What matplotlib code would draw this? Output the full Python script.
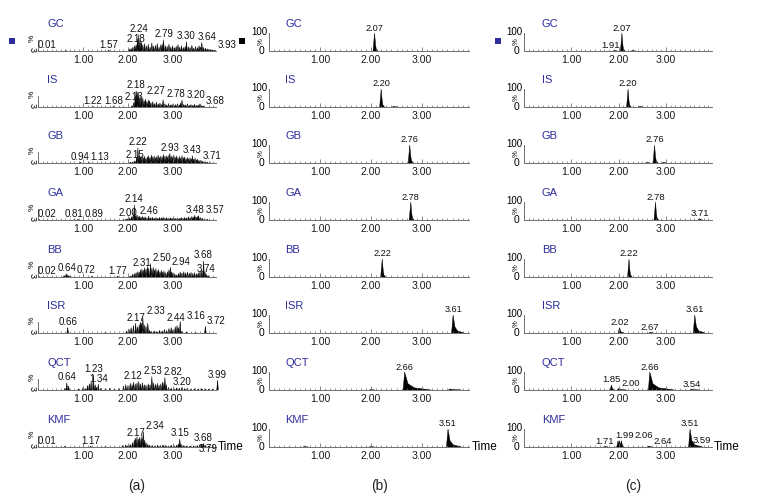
import numpy as np
import matplotlib
matplotlib.use('Agg')
import matplotlib.pyplot as plt
from matplotlib.ticker import FixedLocator, MultipleLocator, FormatStrFormatter
from matplotlib.patches import Rectangle

plt.rcParams['font.family'] = ['Liberation Sans', 'DejaVu Sans']

# compound traces, top to bottom
names = ['GC', 'IS', 'GB', 'GA', 'BB', 'ISR', 'QCT', 'KMF']

# (a) blank plasma: many small peaks, (time, % intensity)
peaks_a = [
    [(0.01, 3), (0.62, 3), (1.57, 4), (2.03, 10), (2.07, 15), (2.11, 22), (2.15, 30), (2.18, 35), (2.21, 70),
     (2.24, 92), (2.27, 60), (2.30, 48), (2.33, 35), (2.37, 42), (2.41, 28), (2.45, 38), (2.49, 22), (2.53, 45),
     (2.57, 28), (2.61, 32), (2.65, 42), (2.69, 22), (2.73, 35), (2.76, 40), (2.79, 62), (2.83, 30), (2.87, 26),
     (2.91, 38), (2.95, 22), (2.99, 30), (3.03, 18), (3.07, 26), (3.11, 36), (3.15, 22), (3.19, 30), (3.23, 20),
     (3.27, 26), (3.30, 52), (3.34, 24), (3.38, 20), (3.42, 32), (3.46, 16), (3.50, 26), (3.54, 20), (3.58, 30),
     (3.61, 22), (3.64, 48), (3.68, 20), (3.72, 16), (3.76, 12), (3.80, 10), (3.84, 8), (3.88, 6), (3.93, 4)],
    [(1.22, 3), (1.68, 3), (2.09, 8), (2.13, 25), (2.16, 60), (2.18, 90), (2.20, 85), (2.22, 80), (2.24, 70),
     (2.27, 60), (2.30, 45), (2.33, 50), (2.36, 35), (2.39, 45), (2.42, 30), (2.45, 40), (2.48, 35), (2.51, 25),
     (2.55, 30), (2.59, 20), (2.63, 28), (2.67, 18), (2.71, 22), (2.75, 15), (2.78, 40), (2.82, 18), (2.86, 12),
     (2.90, 20), (2.94, 12), (2.98, 15), (3.02, 10), (3.06, 14), (3.10, 18), (3.14, 12), (3.17, 22), (3.20, 38),
     (3.24, 15), (3.28, 12), (3.32, 18), (3.36, 10), (3.40, 14), (3.44, 10), (3.48, 16), (3.52, 8), (3.56, 12),
     (3.60, 18), (3.64, 8), (3.68, 5)],
    [(0.94, 2), (1.13, 2), (2.05, 4), (2.10, 6), (2.15, 12), (2.19, 30), (2.22, 85), (2.25, 45), (2.28, 35),
     (2.31, 40), (2.34, 30), (2.37, 38), (2.40, 28), (2.43, 35), (2.46, 42), (2.49, 32), (2.52, 45), (2.55, 35),
     (2.58, 40), (2.61, 30), (2.64, 38), (2.67, 45), (2.70, 32), (2.73, 40), (2.76, 35), (2.79, 48), (2.82, 38),
     (2.85, 42), (2.88, 35), (2.91, 45), (2.93, 55), (2.96, 40), (2.99, 35), (3.02, 45), (3.05, 32), (3.08, 40),
     (3.11, 30), (3.14, 38), (3.17, 28), (3.20, 42), (3.23, 30), (3.26, 35), (3.29, 25), (3.32, 32), (3.35, 25),
     (3.38, 30), (3.41, 22), (3.43, 40), (3.46, 22), (3.49, 28), (3.52, 18), (3.55, 22), (3.58, 14), (3.62, 16),
     (3.66, 10), (3.71, 8), (3.76, 5), (3.82, 3)],
    [(0.02, 2), (0.81, 3), (0.89, 2), (1.90, 3), (1.96, 5), (2.00, 8), (2.04, 12), (2.08, 18), (2.11, 22),
     (2.14, 85), (2.17, 25), (2.20, 30), (2.23, 18), (2.26, 22), (2.29, 15), (2.32, 20), (2.35, 14), (2.38, 18),
     (2.42, 12), (2.46, 22), (2.50, 12), (2.54, 16), (2.58, 10), (2.62, 14), (2.66, 10), (2.70, 15), (2.74, 12),
     (2.78, 16), (2.82, 10), (2.86, 14), (2.90, 9), (2.94, 13), (2.98, 10), (3.02, 12), (3.06, 8), (3.10, 12),
     (3.14, 9), (3.18, 14), (3.22, 10), (3.26, 15), (3.30, 12), (3.34, 18), (3.38, 14), (3.42, 20), (3.45, 16),
     (3.48, 26), (3.51, 18), (3.54, 20), (3.57, 24), (3.61, 14), (3.65, 10), (3.70, 6), (3.76, 4)],
    [(0.02, 3), (0.58, 8), (0.62, 12), (0.64, 18), (0.68, 8), (0.72, 6), (1.20, 2), (1.77, 5), (2.05, 6),
     (2.10, 15), (2.14, 20), (2.18, 25), (2.22, 30), (2.25, 28), (2.28, 40), (2.31, 45), (2.34, 38), (2.37, 52),
     (2.40, 45), (2.43, 60), (2.46, 50), (2.50, 75), (2.53, 48), (2.56, 55), (2.59, 40), (2.62, 48), (2.65, 35),
     (2.68, 42), (2.71, 30), (2.74, 38), (2.77, 28), (2.80, 35), (2.84, 25), (2.88, 30), (2.91, 40), (2.94, 55),
     (2.97, 30), (3.00, 25), (3.04, 18), (3.08, 12), (3.12, 20), (3.16, 28), (3.20, 22), (3.24, 30), (3.28, 24),
     (3.32, 28), (3.36, 22), (3.40, 26), (3.44, 20), (3.48, 25), (3.52, 18), (3.56, 24), (3.60, 30), (3.64, 40),
     (3.68, 90), (3.71, 30), (3.74, 15), (3.78, 8)],
    [(0.66, 30), (1.50, 2), (1.97, 12), (2.02, 22), (2.07, 30), (2.12, 42), (2.17, 55), (2.21, 35), (2.25, 48),
     (2.28, 62), (2.30, 55), (2.33, 90), (2.36, 45), (2.40, 38), (2.44, 55), (2.48, 15), (2.52, 10), (2.58, 12),
     (2.64, 8), (2.70, 15), (2.76, 12), (2.81, 20), (2.86, 14), (2.91, 25), (2.96, 30), (3.00, 18), (3.05, 35),
     (3.09, 42), (3.12, 30), (3.16, 65), (3.20, 10), (3.30, 6), (3.50, 4), (3.72, 38)],
    [(0.60, 10), (0.64, 40), (0.68, 22), (0.90, 6), (1.00, 12), (1.05, 8), (1.10, 25), (1.14, 35), (1.18, 45),
     (1.23, 85), (1.27, 30), (1.30, 15), (1.34, 32), (1.40, 10), (1.50, 8), (1.60, 10), (1.70, 6), (1.80, 8),
     (1.90, 22), (1.95, 30), (2.00, 25), (2.05, 38), (2.09, 30), (2.12, 45), (2.16, 35), (2.20, 40), (2.24, 48),
     (2.28, 35), (2.32, 42), (2.36, 30), (2.40, 28), (2.45, 35), (2.49, 30), (2.53, 75), (2.57, 40), (2.61, 32),
     (2.65, 38), (2.69, 28), (2.73, 35), (2.77, 45), (2.80, 40), (2.82, 70), (2.85, 30), (2.90, 15), (2.96, 10),
     (3.02, 8), (3.08, 12), (3.14, 10), (3.20, 15), (3.26, 8), (3.32, 10), (3.40, 6), (3.48, 8), (3.56, 6),
     (3.64, 8), (3.72, 5), (3.80, 6), (3.88, 5), (3.99, 55)],
    [(0.01, 3), (0.60, 4), (1.17, 4), (1.50, 2), (1.88, 8), (1.95, 12), (2.00, 8), (2.05, 15), (2.10, 25),
     (2.14, 40), (2.17, 50), (2.20, 58), (2.23, 45), (2.26, 55), (2.29, 48), (2.31, 60), (2.34, 85), (2.37, 40),
     (2.40, 25), (2.44, 15), (2.48, 10), (2.54, 8), (2.60, 6), (2.66, 10), (2.72, 8), (2.78, 12), (2.84, 8),
     (2.90, 6), (2.96, 10), (3.02, 8), (3.08, 10), (3.12, 18), (3.15, 45), (3.18, 15), (3.24, 8), (3.30, 6),
     (3.38, 5), (3.46, 6), (3.54, 8), (3.60, 14), (3.64, 18), (3.68, 20), (3.72, 10), (3.79, 5)],
]
labels_a = [
    ['0.01', '1.57', '2.18', '2.24', '2.79', '3.30', '3.64', '3.93'],
    ['1.22', '1.68', '2.13', '2.18', '2.27', '2.78', '3.20', '3.68'],
    ['0.94', '1.13', '2.15', '2.22', '2.93', '3.43', '3.71'],
    ['0.02', '0.81', '0.89', '2.00', '2.14', '2.46', '3.48', '3.57'],
    ['0.02', '0.64', '0.72', '1.77', '2.31', '2.50', '2.94', '3.68', '3.74'],
    ['0.66', '2.17', '2.33', '2.44', '3.16', '3.72'],
    ['0.64', '1.23', '1.34', '2.12', '2.53', '2.82', '3.20', '3.99'],
    ['0.01', '1.17', '2.17', '2.34', '3.15', '3.68', '3.79'],
]

# (b) standards, (time, % intensity, tail length)
peaks_b = [
    [(2.07, 100, 0.05)],
    [(2.20, 100, 0.05), (2.45, 2, 0.05)],
    [(2.76, 100, 0.06)],
    [(2.78, 100, 0.05)],
    [(2.22, 100, 0.05)],
    [(3.61, 100, 0.20)],
    [(2.00, 3, 0.05), (2.66, 100, 0.50), (3.55, 6, 0.20)],
    [(0.70, 2, 0.05), (2.00, 2, 0.05), (3.51, 100, 0.25)],
]
labels_b = [['2.07'], ['2.20'], ['2.76'], ['2.78'], ['2.22'], ['3.61'], ['2.66'], ['3.51']]

# (c) plasma sample
peaks_c = [
    [(1.91, 3, 0.05), (2.07, 100, 0.05), (2.30, 2, 0.05)],
    [(2.20, 100, 0.05), (2.45, 2, 0.05)],
    [(2.60, 3, 0.05), (2.76, 100, 0.06), (2.95, 2, 0.05)],
    [(2.78, 100, 0.05), (3.71, 8, 0.05)],
    [(2.22, 100, 0.05)],
    [(2.02, 30, 0.08), (2.67, 3, 0.05), (3.61, 100, 0.20)],
    [(1.85, 28, 0.04), (2.00, 8, 0.15), (2.66, 100, 0.50), (3.54, 4, 0.15)],
    [(1.71, 3, 0.05), (1.99, 35, 0.03), (2.02, 35, 0.03), (2.06, 35, 0.03), (2.64, 5, 0.05),
     (3.51, 100, 0.25), (3.59, 10, 0.08)],
]
labels_c = [
    ['1.91', '2.07'], ['2.20'], ['2.76'], ['2.78', '3.71'], ['2.22'],
    ['2.02', '2.67', '3.61'], ['1.85', '2.00', '2.66', '3.54'],
    ['1.71', '1.99', '2.06', '2.64', '3.51', '3.59'],
]

W, H = 759, 501
col_left = [38, 269, 524]
col_scale = [45, 51, 47.3]
col_xmax = [3.96, 3.93, 3.97]
row_base = [51, 107, 163, 220, 277, 333, 390, 447]
panel_h = 18
name_dx = [9, 16, 18]
blue = '#2d2d9c'
axis_col = '#707070'
lab_fs = [7.0, 6.6, 6.8]

fig = plt.figure(figsize=(W / 100, H / 100), dpi=100)


def overlaps(a, b):
    return a[0] < b[1] and b[0] < a[1] and a[2] < b[3] and b[2] < a[3]


def add_labels(ax, labels, peaks, scale, xmax, fs, stems, last_row):
    # peak labels placed above their peak, nudged sideways (or down) when they collide
    em = fs * 100 / 72
    th = 0.85 * em
    pts = np.array([p[:2] for p in peaks], dtype=float)
    end = xmax * scale
    boxes = [(k * scale - 11, k * scale + 11, -16, -3) for k in (1, 2, 3)]
    if last_row:
        boxes.append((end + 2, end + 32, -5, 5))
    tops, stem_boxes = {}, {}
    for lab in labels:
        t = float(lab)
        h = pts[np.argmin(np.abs(pts[:, 0] - t)), 1] * panel_h / 100
        tops[lab] = (t * scale, h)
        if stems:
            stem_boxes[lab] = (t * scale - 2, t * scale + 2, 0, h)
    for lab in sorted(labels, key=float):
        x0, h = tops[lab]
        w = (len(lab) - 1) * 0.556 * em + 0.278 * em
        others = boxes + [b for k, b in stem_boxes.items() if k != lab]
        moves = [0, 0.85 * em] + ([-0.85 * em] if h < 3 else [])
        best = None
        for dy in moves:
            for dx in range(-40, 41):
                x = x0 + dx
                y = h + 0.5 + dy
                cost = abs(dx) + (2.5 if dy < 0 else 3.0) * abs(dy)
                if x - w / 2 < -1 or (best is not None and cost >= best[0]):
                    continue
                box = (x - w / 2, x + w / 2, y, y + th)
                if any(overlaps(box, b) for b in others):
                    continue
                best = (cost, x, y)
        if best is None:
            best = (0, max(x0, w / 2 - 1), h + 0.5)
        _, x, y = best
        boxes.append((x - w / 2 - 0.5, x + w / 2 + 0.5, y, y + th))
        ax.text(x / scale, y * 100 / panel_h, lab, ha='center', va='bottom',
                fontsize=fs, color='#111111')


for c in range(3):
    w_px = col_scale[c] * col_xmax[c]
    for r in range(8):
        ax = fig.add_axes([col_left[c] / W, 1 - row_base[r] / H, w_px / W, panel_h / H])
        ax.patch.set_alpha(0)
        ax.set_xlim(0, col_xmax[c])
        ax.set_ylim(0, 100)

        if c == 0:
            for t, h in peaks_a[r]:
                ax.fill([t - 0.017, t, t + 0.017], [0, h, 0], color='black', lw=0.35, clip_on=False)
            add_labels(ax, labels_a[r], peaks_a[r], col_scale[c], col_xmax[c], lab_fs[c], False, r == 7)
        else:
            peaks = peaks_b[r] if c == 1 else peaks_c[r]
            for t, h, tail in peaks:
                xs = [t - 0.03, t, t + 0.015 + 0.1 * tail, t + 0.015 + 0.35 * tail, t + 0.015 + tail]
                ys = [0, h, 0.35 * h, 0.12 * h, 0]
                ax.fill(xs, ys, color='black', lw=0.3, clip_on=False)
            add_labels(ax, labels_b[r] if c == 1 else labels_c[r], peaks, col_scale[c], col_xmax[c],
                       lab_fs[c], True, r == 7)

        ax.xaxis.set_major_locator(FixedLocator([1, 2, 3]))
        ax.xaxis.set_minor_locator(MultipleLocator(0.1))
        ax.xaxis.set_major_formatter(FormatStrFormatter('%.2f'))
        ax.tick_params(axis='x', which='major', direction='in', length=3, width=0.6,
                       color=axis_col, labelsize=7.6, pad=3, labelcolor='#1a1a1a')
        ax.tick_params(axis='x', which='minor', direction='in', length=1.5, width=0.5, color=axis_col)
        ax.set_yticks([])
        for s in ['top', 'right']:
            ax.spines[s].set_visible(False)
        for s in ['bottom', 'left']:
            ax.spines[s].set_color(axis_col)
            ax.spines[s].set_linewidth(0.7)

        ax.text(name_dx[c] / w_px, 1.52, names[r], transform=ax.transAxes, ha='left', va='center',
                fontsize=8, color=blue)

        if c == 0:
            ax.spines['left'].set_bounds(0, 60)
            ax.text(-6 / w_px, 0.7, '%', rotation=90, transform=ax.transAxes,
                    ha='center', va='center', fontsize=6)
            ax.text(-6 / w_px, 0.08, '3', rotation=270, transform=ax.transAxes,
                    ha='center', va='center', fontsize=6.5)
        else:
            ax.text(-2 / w_px, 1.08, '100', transform=ax.transAxes, ha='right', va='center', fontsize=7)
            ax.text(-8 / w_px, 0.5, '%', rotation=90, transform=ax.transAxes,
                    ha='center', va='center', fontsize=5.5)
            ax.text(-5 / w_px, 0.02, '0', transform=ax.transAxes, ha='right', va='center', fontsize=7.5)

        if r == 7:
            ax.text(1 + 2 / w_px, 0, 'Time', transform=ax.transAxes, ha='left', va='center', fontsize=8.5)

# channel markers
for x, col in [(9, blue), (239, 'black'), (495, blue)]:
    fig.add_artist(Rectangle((x / W, 1 - 44 / H), 6 / W, 6 / H, transform=fig.transFigure,
                             color=col, lw=0))

for x, cap in [(137, '(a)'), (380, '(b)'), (633, '(c)')]:
    fig.text(x / W, 1 - 486 / H, cap, ha='center', va='center', fontsize=9.8, color='#222222')

fig.savefig('out.png', dpi=100)
